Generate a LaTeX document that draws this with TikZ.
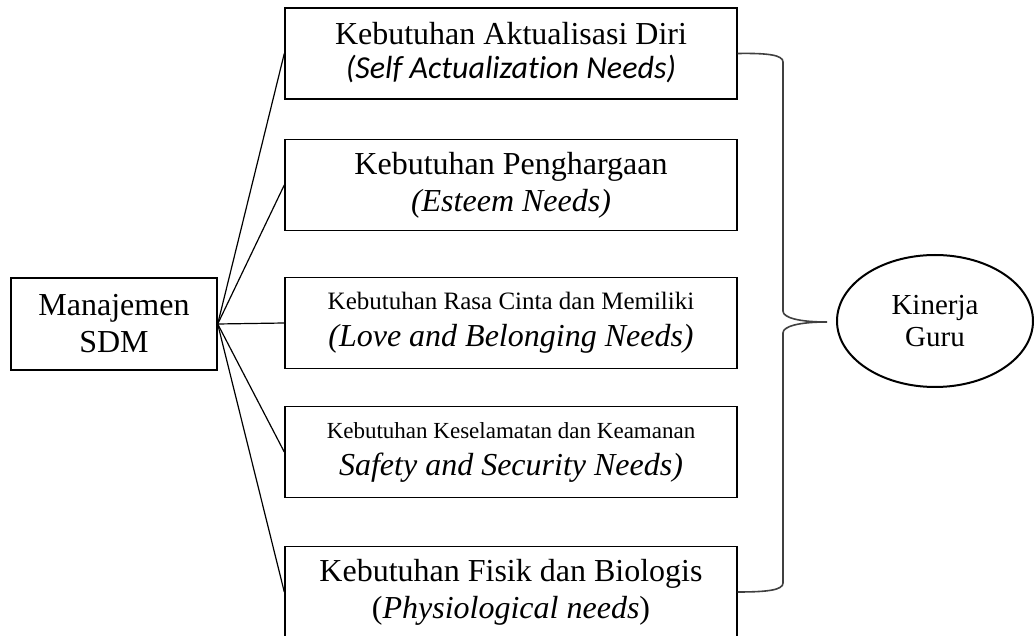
\documentclass[tikz,border=0pt]{standalone}
\usepackage{fontspec}
\setmainfont{Liberation Serif}
\newfontfamily\calfont[Ligatures={NoCommon}]{Carlito}
\usetikzlibrary{shapes.geometric}
\begin{document}
\begin{tikzpicture}[x=0.5pt,y=-0.5pt,
  needbox/.style={draw, line width=0.7pt, rectangle, minimum width=226pt, minimum height=45.5pt, inner sep=0pt, align=center, font=\fontsize{16}{18.5}\selectfont},
  conn/.style={line width=0.6pt},
  bracepath/.style={line width=0.8pt, draw=black!75}]
\useasboundingbox (0,0) rectangle (1035,636);
\node[draw, line width=0.7pt, rectangle, minimum width=103pt, minimum height=46pt, inner sep=0pt, align=center, font=\fontsize{16}{18.5}\selectfont] (m) at (114,324) {Manajemen\\SDM};
\node[needbox, font=\fontsize{16}{17}\selectfont, text depth=3pt] (b1) at (511,53.5) {Kebutuhan Aktualisasi Diri\\{\calfont\itshape (Self Actualization Needs)}};
\node[needbox] (b2) at (511,185) {Kebutuhan Penghargaan\\{\itshape (Esteem Needs)}};
\node[needbox] (b3) at (511,323) {{\fontsize{12.5}{15}\selectfont Kebutuhan Rasa Cinta dan Memiliki}\\{\itshape (Love and Belonging Needs)}};
\node[needbox] (b4) at (511,452) {{\fontsize{11.5}{14}\selectfont Kebutuhan Keselamatan dan Keamanan}\\{\itshape Safety and Security Needs)}};
\node[needbox] (b5) at (511,592) {Kebutuhan Fisik dan Biologis\\(\textit{Physiological needs})};
\node[draw, ellipse, line width=1pt, minimum width=98pt, minimum height=66pt, inner sep=0pt, align=center, font=\fontsize{14.5}{16}\selectfont] (k) at (935,321) {Kinerja\\Guru};
\coordinate (tip) at (827,322);
\foreach \b in {b1,b2,b3,b4,b5} {\draw[conn] (m.east) -- (\b.west);}
\draw[bracepath] (b1.east) .. controls (768,53) and (783,55) .. (783,62) -- (783,311)
  .. controls (783,318) and (800,322) .. (tip)
  .. controls (800,322) and (783,326) .. (783,333) -- (783,583)
  .. controls (783,590) and (768,592) .. (b5.east);
\end{tikzpicture}
\end{document}
